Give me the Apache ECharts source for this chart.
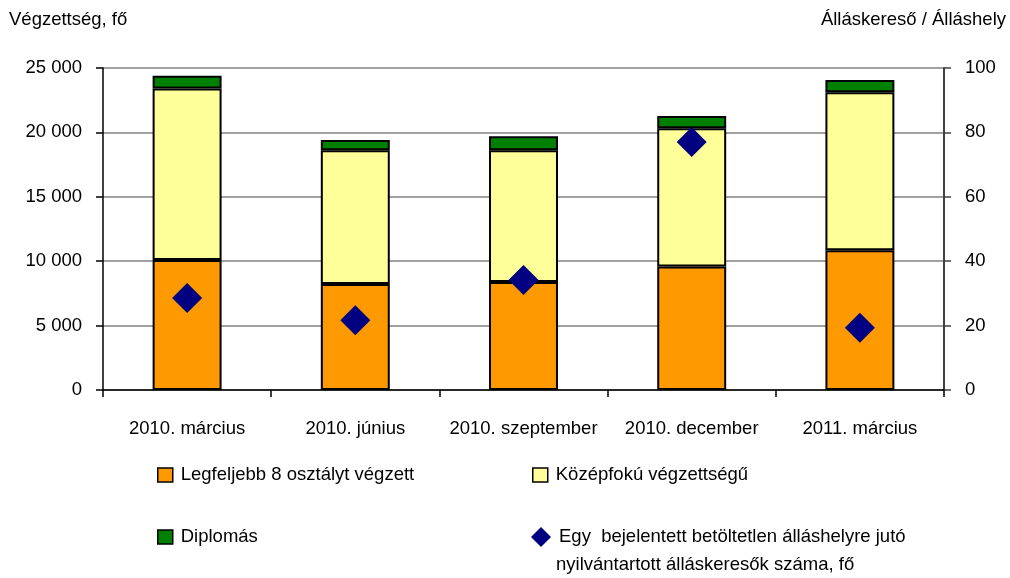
<!DOCTYPE html>
<html>
<head>
<meta charset="utf-8">
<script src="https://cdn.jsdelivr.net/npm/echarts@6/dist/echarts.min.js"></script>
<style>
html,body{margin:0;padding:0;background:#fff;}
#c{width:1010px;height:578px;}
</style>
</head>
<body>
<div id="c"></div>
<script>
const categories = ['2010. március', '2010. június', '2010. szeptember', '2010. december', '2011. március'];
const primaryEdu = [10100, 8230, 8390, 9580, 10850];
const secondaryEdu = [13300, 10380, 10220, 10740, 12260];
const graduates = [1000, 800, 1090, 950, 950];
const seekersPerVacancy = [28.6, 21.7, 34.2, 77.0, 19.3];
const leftTicks = [0, 5000, 10000, 15000, 20000, 25000];
const rightTicks = [0, 20, 40, 60, 80, 100];

const names = ['Legfeljebb 8 osztályt végzett', 'Középfokú végzettségű', 'Diplomás',
  'Egy bejelentett betöltetlen álláshelyre jutó nyilvántartott álláskeresők száma, fő'];
const line1 = 'Egy  bejelentett betöltetlen álláshelyre jutó';
const line2 = 'nyilvántartott álláskeresők száma, fő';

const FONT = '"Liberation Sans", Arial, sans-serif';
const FS = 18.5;
const txt = {fontFamily: FONT, fontSize: FS, color: '#000'};

const chart = echarts.init(document.getElementById('c'), null, {renderer: 'canvas'});
const barBorder = {borderColor: '#000', borderWidth: 2};

function legendItem(name, left, top, icon, w, h, fmt) {
  return {
    show: true, data: [name], left: left, top: top, orient: 'horizontal', padding: 0,
    selectedMode: false, icon: icon, itemWidth: w, itemHeight: h,
    itemStyle: {borderColor: '#000', borderWidth: icon === 'rect' ? 1.5 : 0},
    textStyle: Object.assign({}, txt, {lineHeight: 22, padding: [0, 0, 0, 3]}),
    formatter: fmt || undefined
  };
}

chart.setOption({
  animation: false,
  backgroundColor: '#fff',
  title: [
    {text: 'Végzettség, fő', left: 9, top: 10, padding: 0, textStyle: Object.assign({}, txt, {fontWeight: 'normal'})},
    {text: 'Álláskereső / Álláshely', right: 4, top: 10, padding: 0, textStyle: Object.assign({}, txt, {fontWeight: 'normal'})}
  ],
  grid: {left: 103, right: 66, top: 68, bottom: 188, containLabel: false},
  xAxis: {
    type: 'category', data: categories,
    axisLine: {lineStyle: {color: '#000', width: 1.5}},
    axisTick: {show: true, length: 7, lineStyle: {color: '#000', width: 1.5}},
    axisLabel: Object.assign({}, txt, {margin: 29, interval: 0}),
    splitLine: {show: false}
  },
  yAxis: [
    {
      type: 'value', min: leftTicks[0], max: leftTicks[leftTicks.length - 1], interval: 5000,
      position: 'left',
      axisLine: {show: true, lineStyle: {color: '#000', width: 1.5}},
      axisTick: {show: true, inside: false, length: 7, lineStyle: {color: '#000', width: 1.5}},
      axisLabel: Object.assign({}, txt, {margin: 21, formatter: v => String(v).replace(/\B(?=(\d{3})+(?!\d))/g, ' ')}),
      splitLine: {show: true, lineStyle: {color: '#a0a0a0', width: 2}}
    },
    {
      type: 'value', min: rightTicks[0], max: rightTicks[rightTicks.length - 1], interval: 20,
      position: 'right',
      axisLine: {show: true, lineStyle: {color: '#404040', width: 2}},
      axisTick: {show: true, inside: false, length: 7, lineStyle: {color: '#404040', width: 1.5}},
      axisLabel: Object.assign({}, txt, {margin: 21}),
      splitLine: {show: false}
    }
  ],
  legend: [
    legendItem(names[0], 157, 464, 'rect', 15, 14),
    legendItem(names[1], 532, 464, 'rect', 15, 14),
    legendItem(names[2], 157, 526, 'rect', 15, 14),
    legendItem(names[3], 531, 526, 'diamond', 20, 20, () => line1)
  ],
  graphic: [
    {type: 'text', left: 556, top: 555, style: {text: line2, font: FS + 'px ' + FONT, fill: '#000'}}
  ],
  series: [
    {name: names[0], type: 'bar', stack: 'edu', data: primaryEdu, barWidth: '41%',
      itemStyle: Object.assign({color: '#FF9900'}, barBorder)},
    {name: names[1], type: 'bar', stack: 'edu', data: secondaryEdu, barWidth: '41%',
      itemStyle: Object.assign({color: '#FFFF99'}, barBorder)},
    {name: names[2], type: 'bar', stack: 'edu', data: graduates, barWidth: '41%',
      itemStyle: Object.assign({color: '#008000'}, barBorder)},
    {name: names[3], type: 'scatter', yAxisIndex: 1, data: seekersPerVacancy,
      symbol: 'diamond', symbolSize: [30, 30], z: 5,
      itemStyle: {color: '#000080', opacity: 1}}
  ]
});
</script>
</body>
</html>
